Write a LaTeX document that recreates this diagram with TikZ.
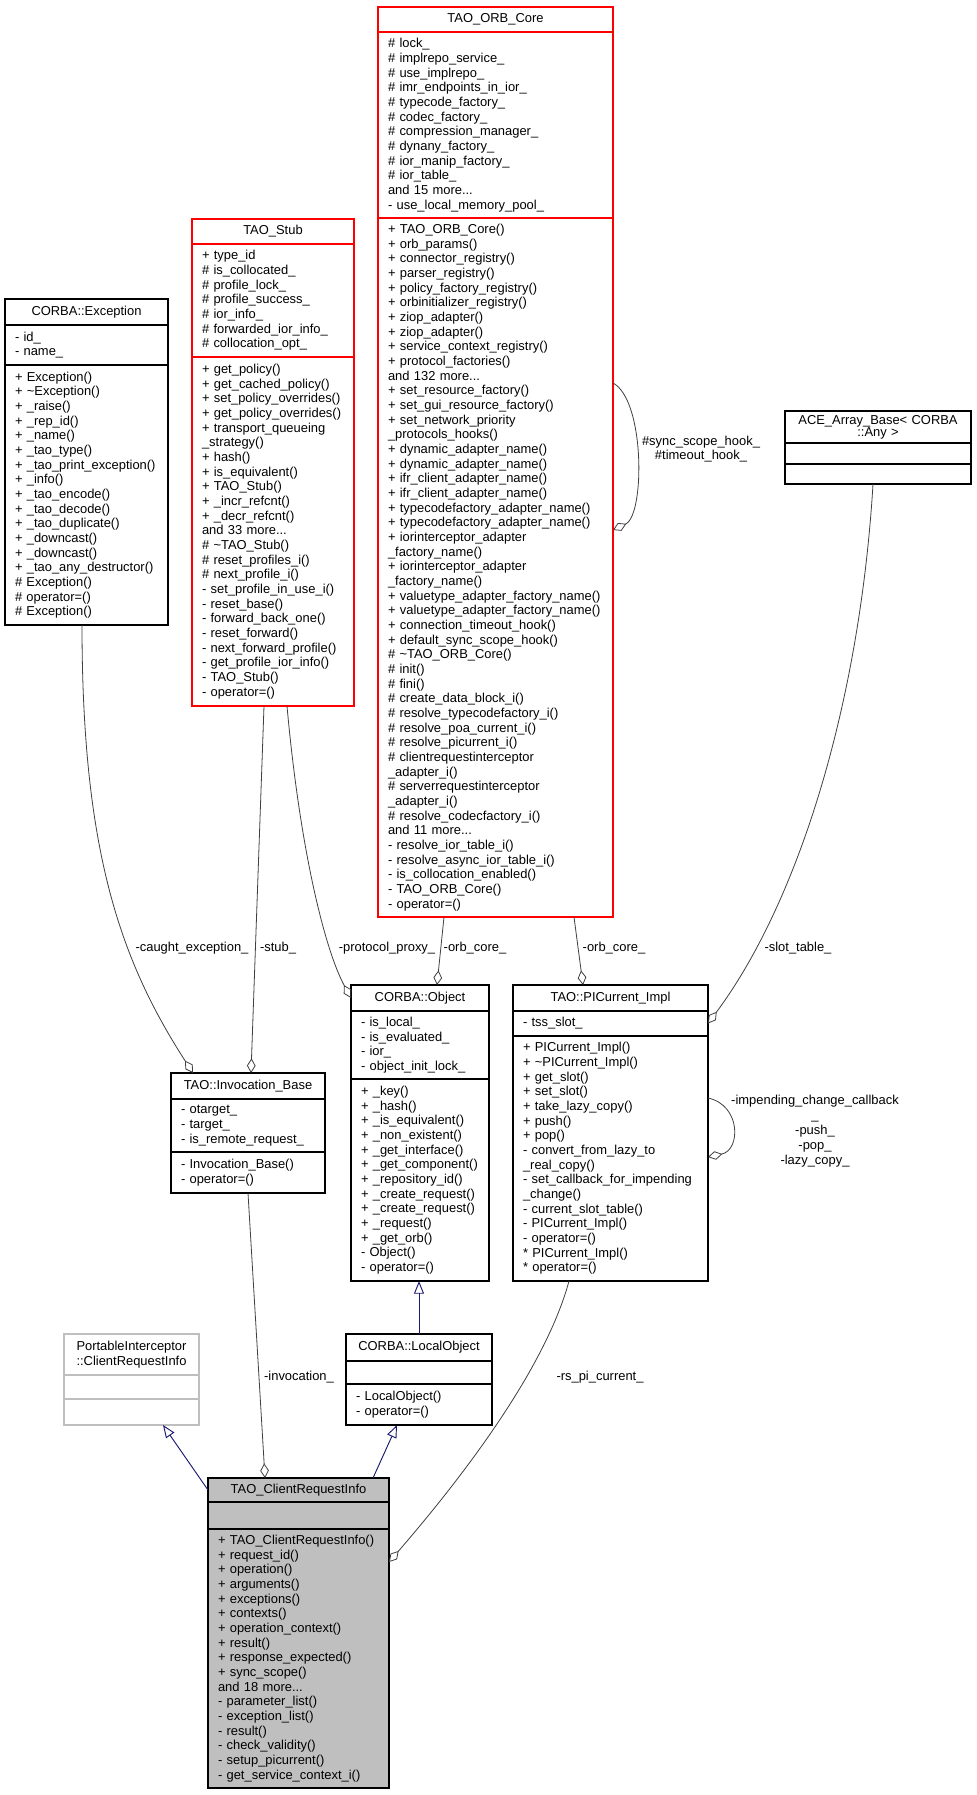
\documentclass[tikz,border=0pt]{standalone}
\usepackage{fontspec}
\setmainfont{Liberation Sans}
\usetikzlibrary{positioning,calc,arrows.meta}
\definecolor{edgegray}{RGB}{64,64,64}
\definecolor{inheritblue}{RGB}{25,25,112}
\definecolor{truncred}{RGB}{255,0,0}
\definecolor{undocgray}{RGB}{191,191,191}
\definecolor{focusgray}{RGB}{191,191,191}
\begin{document}
\begin{tikzpicture}[x=0.75pt,y=-0.75pt]
      \tikzstyle{every node}=[font=\fontsize{9.7}{11}\selectfont]
      \tikzstyle{cls}=[draw, line width=0.9pt, fill=white, inner xsep=7.5pt, inner ysep=1pt, outer sep=0pt, anchor=north]
      \tikzstyle{head}=[cls, align=center]
      \tikzstyle{body}=[cls, align=left]
      \tikzstyle{trunc}=[draw=truncred]
      \tikzstyle{undoc}=[draw=undocgray]
      \tikzstyle{focus}=[fill=focusgray]
      \tikzstyle{assoc}=[draw=edgegray, line width=0.6pt, -{Diamond[open, length=11pt, width=6.5pt]}]
      \tikzstyle{inherit}=[draw=inheritblue, line width=0.7pt, -{Triangle[open, length=9.5pt, width=7.5pt]}]
      % box size in pixels: width, height
      \tikzset{sz/.code 2 args={%
        \pgfmathsetlengthmacro\clsw{#1*0.75pt}%
        \pgfmathsetlengthmacro\clstw{#1*0.75pt-15pt}%
        \pgfmathsetlengthmacro\clsh{#2*0.75pt}%
        \edef\clsnext{\noexpand\tikzset{minimum width=\clsw,text width=\clstw,minimum height=\clsh}}%
        \clsnext}}
      %%% HELP LINES - uncomment to place boxes
      %\draw[step=100,gray,very thin] (0,0) grid (976,1795);
      \fill[white] (0,0) rectangle (976,1795);
      \useasboundingbox (0,0) rectangle (976,1795);
      %% TAO_ORB_Core
      \node (orbT) at (378,7) [head, trunc, sz={235}{25}, anchor=north west] {TAO\_ORB\_Core};
      \node (orbA) [body, trunc, sz={235}{186}, below=0pt of orbT] {\#~lock\_\\\#~implrepo\_service\_\\\#~use\_implrepo\_\\\#~imr\_endpoints\_in\_ior\_\\\#~typecode\_factory\_\\\#~codec\_factory\_\\\#~compression\_manager\_\\\#~dynany\_factory\_\\\#~ior\_manip\_factory\_\\\#~ior\_table\_\\and 15 more...\\-~use\_local\_memory\_pool\_};
      \node (orbM) [body, trunc, sz={235}{699}, below=0pt of orbA] {+~TAO\_ORB\_Core()\\+~orb\_params()\\+~connector\_registry()\\+~parser\_registry()\\+~policy\_factory\_registry()\\+~orbinitializer\_registry()\\+~ziop\_adapter()\\+~ziop\_adapter()\\+~service\_context\_registry()\\+~protocol\_factories()\\and 132 more...\\+~set\_resource\_factory()\\+~set\_gui\_resource\_factory()\\+~set\_network\_priority\\\_protocols\_hooks()\\+~dynamic\_adapter\_name()\\+~dynamic\_adapter\_name()\\+~ifr\_client\_adapter\_name()\\+~ifr\_client\_adapter\_name()\\+~typecodefactory\_adapter\_name()\\+~typecodefactory\_adapter\_name()\\+~iorinterceptor\_adapter\\\_factory\_name()\\+~iorinterceptor\_adapter\\\_factory\_name()\\+~valuetype\_adapter\_factory\_name()\\+~valuetype\_adapter\_factory\_name()\\+~connection\_timeout\_hook()\\+~default\_sync\_scope\_hook()\\\#~\textasciitilde{}TAO\_ORB\_Core()\\\#~init()\\\#~fini()\\\#~create\_data\_block\_i()\\\#~resolve\_typecodefactory\_i()\\\#~resolve\_poa\_current\_i()\\\#~resolve\_picurrent\_i()\\\#~clientrequestinterceptor\\\_adapter\_i()\\\#~serverrequestinterceptor\\\_adapter\_i()\\\#~resolve\_codecfactory\_i()\\and 11 more...\\-~resolve\_ior\_table\_i()\\-~resolve\_async\_ior\_table\_i()\\-~is\_collocation\_enabled()\\-~TAO\_ORB\_Core()\\-~operator=()};
      %% TAO_Stub
      \node (stubT) at (192,219) [head, trunc, sz={162}{25}, anchor=north west] {TAO\_Stub};
      \node (stubA) [body, trunc, sz={162}{113}, below=0pt of stubT] {+~type\_id\\\#~is\_collocated\_\\\#~profile\_lock\_\\\#~profile\_success\_\\\#~ior\_info\_\\\#~forwarded\_ior\_info\_\\\#~collocation\_opt\_};
      \node (stubM) [body, trunc, sz={162}{349}, below=0pt of stubA] {+~get\_policy()\\+~get\_cached\_policy()\\+~set\_policy\_overrides()\\+~get\_policy\_overrides()\\+~transport\_queueing\\\_strategy()\\+~hash()\\+~is\_equivalent()\\+~TAO\_Stub()\\+~\_incr\_refcnt()\\+~\_decr\_refcnt()\\and 33 more...\\\#~\textasciitilde{}TAO\_Stub()\\\#~reset\_profiles\_i()\\\#~next\_profile\_i()\\-~set\_profile\_in\_use\_i()\\-~reset\_base()\\-~forward\_back\_one()\\-~reset\_forward()\\-~next\_forward\_profile()\\-~get\_profile\_ior\_info()\\-~TAO\_Stub()\\-~operator=()};
      %% CORBA::Exception
      \node (excT) at (5,299) [head, sz={163}{26}, anchor=north west] {CORBA::Exception};
      \node (excA) [body, sz={163}{40}, below=0pt of excT] {-~id\_\\-~name\_};
      \node (excM) [body, sz={163}{260}, below=0pt of excA] {+~Exception()\\+~\textasciitilde{}Exception()\\+~\_raise()\\+~\_rep\_id()\\+~\_name()\\+~\_tao\_type()\\+~\_tao\_print\_exception()\\+~\_info()\\+~\_tao\_encode()\\+~\_tao\_decode()\\+~\_tao\_duplicate()\\+~\_downcast()\\+~\_downcast()\\+~\_tao\_any\_destructor()\\\#~Exception()\\\#~operator=()\\\#~Exception()};
      %% ACE_Array_Base
      \node (aceT) at (785,411) [head, sz={186}{32}, anchor=north west, font=\fontsize{9.7}{9}\selectfont] {ACE\_Array\_Base< CORBA\\::Any >};
      \node (aceA) [body, sz={186}{21}, below=0pt of aceT] {};
      \node (aceM) [body, sz={186}{20}, below=0pt of aceA] {};
      %% TAO::Invocation_Base
      \node (invT) at (171,1073) [head, sz={154}{26}, anchor=north west] {TAO::Invocation\_Base};
      \node (invA) [body, sz={154}{53}, below=0pt of invT] {-~otarget\_\\-~target\_\\-~is\_remote\_request\_};
      \node (invM) [body, sz={154}{41}, below=0pt of invA] {-~Invocation\_Base()\\-~operator=()};
      %% CORBA::Object
      \node (objT) at (351,985) [head, sz={138}{26}, anchor=north west] {CORBA::Object};
      \node (objA) [body, sz={138}{68}, below=0pt of objT] {-~is\_local\_\\-~is\_evaluated\_\\-~ior\_\\-~object\_init\_lock\_};
      \node (objM) [body, sz={138}{202}, below=0pt of objA] {+~\_key()\\+~\_hash()\\+~\_is\_equivalent()\\+~\_non\_existent()\\+~\_get\_interface()\\+~\_get\_component()\\+~\_repository\_id()\\+~\_create\_request()\\+~\_create\_request()\\+~\_request()\\+~\_get\_orb()\\-~Object()\\-~operator=()};
      %% TAO::PICurrent_Impl
      \node (piT) at (513,985) [head, sz={195}{26}, anchor=north west] {TAO::PICurrent\_Impl};
      \node (piA) [body, sz={195}{25}, below=0pt of piT] {-~tss\_slot\_};
      \node (piM) [body, sz={195}{245}, below=0pt of piA] {+~PICurrent\_Impl()\\+~\textasciitilde{}PICurrent\_Impl()\\+~get\_slot()\\+~set\_slot()\\+~take\_lazy\_copy()\\+~push()\\+~pop()\\-~convert\_from\_lazy\_to\\\_real\_copy()\\-~set\_callback\_for\_impending\\\_change()\\-~current\_slot\_table()\\-~PICurrent\_Impl()\\-~operator=()\\{}*~PICurrent\_Impl()\\{}*~operator=()};
      %% CORBA::LocalObject
      \node (locT) at (346,1334) [head, sz={146}{27}, anchor=north west] {CORBA::LocalObject};
      \node (locA) [body, sz={146}{23}, below=0pt of locT] {};
      \node (locM) [body, sz={146}{41}, below=0pt of locA] {-~LocalObject()\\-~operator=()};
      %% PortableInterceptor::ClientRequestInfo
      \node (portT) at (64,1334) [head, undoc, sz={135}{41}, anchor=north west] {PortableInterceptor\\::ClientRequestInfo};
      \node (portA) [body, undoc, sz={135}{24}, below=0pt of portT] {};
      \node (portM) [body, undoc, sz={135}{26}, below=0pt of portA] {};
      %% TAO_ClientRequestInfo
      \node (criT) at (208,1478) [head, focus, sz={181}{24}, anchor=north west] {TAO\_ClientRequestInfo};
      \node (criA) [body, focus, sz={181}{27}, below=0pt of criT] {};
      \node (criM) [body, focus, sz={181}{259}, below=0pt of criA] {+~TAO\_ClientRequestInfo()\\+~request\_id()\\+~operation()\\+~arguments()\\+~exceptions()\\+~contexts()\\+~operation\_context()\\+~result()\\+~response\_expected()\\+~sync\_scope()\\and 18 more...\\-~parameter\_list()\\-~exception\_list()\\-~result()\\-~check\_validity()\\-~setup\_picurrent()\\-~get\_service\_context\_i()};
      %% members
      \draw[assoc] ($(excM.south)+(-4.5,0)$) .. controls +(0,225) and +(-73,-113) .. ($(invT.north west)+(22,0)$);
      \node (lblCaught) at (192,948) {-caught\_exception\_};
      \draw[assoc] ($(stubM.south west)+(72,0)$) -- ($(invT.north west)+(80,0)$);
      \node (lblStub) at (278,948) {-stub\_};
      \draw[assoc] ($(stubM.south west)+(95,0)$) .. controls +(13,144) and +(-26,-48) .. (objT.west);
      \node (lblProxy) at (387,948) {-protocol\_proxy\_};
      \draw[assoc] ($(orbM.south west)+(66,0)$) -- ($(objT.north west)+(86,0)$);
      \node (lblOrbA) at (475,948) {-orb\_core\_};
      \draw[assoc] ($(orbM.south west)+(196,0)$) -- ($(piT.north west)+(70,0)$);
      \node (lblOrbB) at (614,948) {-orb\_core\_};
      \draw[assoc] ($(aceM.south west)+(88,0)$) .. controls +(-13,216) and +(92,-124) .. (piA.east);
      \node (lblSlot) at (798,948) {-slot\_table\_};
      \draw[assoc] ($(orbM.north east)+(0,165)$) .. controls +(32,17) and +(32,-15) .. ($(orbM.north east)+(0,312)$);
      \node (lblHooks) at (701,449) [align=center, font=\fontsize{9.7}{10}\selectfont] {\#sync\_scope\_hook\_\\\#timeout\_hook\_};
      \draw[assoc] ($(piM.north east)+(0,62)$) .. controls +(33,7) and +(33,-7) .. ($(piM.north east)+(0,121)$);
      \node (lblSelf) at (815,1131) [align=center, font=\fontsize{9.7}{11.2}\selectfont] {-impending\_change\_callback\\\_\\-push\_\\-pop\_\\-lazy\_copy\_};
      \draw[assoc] ($(invM.south west)+(77,0)$) -- ($(criT.north west)+(57,0)$);
      \node (lblInv) at (299,1377) {-invocation\_};
      \draw[assoc] ($(piM.south west)+(56,0)$) .. controls +(-24,89) and +(71,-82) .. ($(criM.north east)+(0,33)$);
      \node (lblRs) at (600,1377) {-rs\_pi\_current\_};
      %% inheritance
      \draw[inherit] (locT.north) -- (locT.north |- objM.south);
      \draw[inherit] (criT.west) -- ($(portM.south west)+(99,0)$);
      \draw[inherit] ($(criT.north west)+(165,0)$) -- ($(locM.south west)+(51,0)$);
\end{tikzpicture}
\end{document}
